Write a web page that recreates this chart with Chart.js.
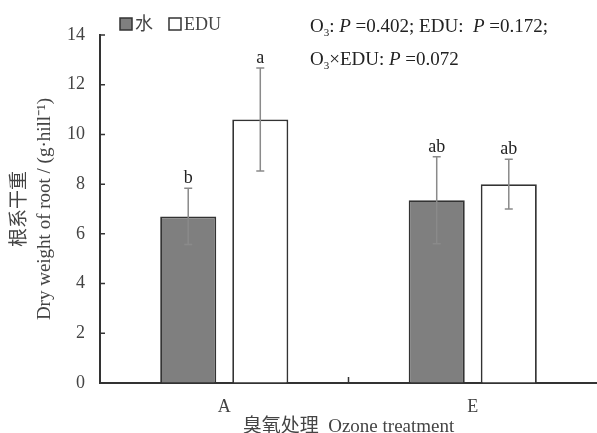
<!DOCTYPE html>
<html>
<head>
<meta charset="utf-8">
<script src="https://cdn.jsdelivr.net/npm/chart.js@4/dist/chart.umd.min.js"></script>
<style>
  html, body { margin: 0; padding: 0; background: #fff; }
  #wrap { width: 597px; height: 433px; }
</style>
</head>
<body>
<div id="wrap"><canvas id="myChart"></canvas></div>
<script>
// data
const categories = ["A", "E"];
const waterValues = [6.7, 7.35];
const waterErr = [1.13, 1.75];
const waterLetters = ["b", "ab"];
const eduValues = [10.6, 8.0];
const eduErr = [2.07, 1.0];
const eduLetters = ["a", "ab"];
const yTicks = [0, 2, 4, 6, 8, 10, 12, 14];

const serif = "'Liberation Serif', 'Times New Roman', 'Noto Sans CJK SC', serif";
const textColor = "#444";
const ctx = document.getElementById("myChart");

// error bars + letters, computed from the bars the library placed
const errorBars = {
  id: "errorBars",
  afterDatasetsDraw(chart) {
    const c = chart.ctx;
    const y = chart.scales.y;
    chart.data.datasets.forEach((ds, i) => {
      const meta = chart.getDatasetMeta(i);
      meta.data.forEach((bar, j) => {
        const v = ds.data[j];
        const e = ds.errors[j];
        const top = y.getPixelForValue(v + e);
        const bot = y.getPixelForValue(v - e);
        c.save();
        c.strokeStyle = "#8a8a8a";
        c.lineWidth = 1.5;
        c.beginPath();
        c.moveTo(bar.x, top);
        c.lineTo(bar.x, bot);
        c.moveTo(bar.x - 4, top);
        c.lineTo(bar.x + 4, top);
        c.moveTo(bar.x - 4, bot);
        c.lineTo(bar.x + 4, bot);
        c.stroke();
        c.fillStyle = "#222";
        c.font = "18px " + serif;
        c.textAlign = "center";
        c.textBaseline = "alphabetic";
        c.fillText(ds.letters[j], bar.x, top - 5);
        c.restore();
      });
    });
  }
};

// inward tick marks, legend and the P-value note
const extras = {
  id: "extras",
  afterDraw(chart) {
    const c = chart.ctx;
    const x = chart.scales.x;
    const y = chart.scales.y;
    const area = chart.chartArea;
    c.save();
    c.strokeStyle = "#333";
    c.lineWidth = 1.5;
    c.beginPath();
    yTicks.forEach((t) => {
      const py = y.getPixelForValue(t);
      c.moveTo(area.left, py);
      c.lineTo(area.left + 5, py);
    });
    for (let i = 0; i < categories.length - 1; i++) {
      const px = (x.getPixelForValue(i) + x.getPixelForValue(i + 1)) / 2;
      c.moveTo(px, area.bottom);
      c.lineTo(px, area.bottom - 6);
    }
    c.stroke();

    // legend
    let lx = 120;
    c.font = "18px " + serif;
    c.textBaseline = "alphabetic";
    chart.data.datasets.forEach((ds) => {
      c.fillStyle = ds.backgroundColor;
      c.fillRect(lx, 18, 12, 12);
      c.strokeStyle = "#333";
      c.lineWidth = 1.5;
      c.strokeRect(lx, 18, 12, 12);
      c.fillStyle = textColor;
      c.fillText(ds.label, lx + 15, 30);
      lx += 15 + c.measureText(ds.label).width + 16;
    });

    // P values
    const line1 = [["O", "n"], ["3", "sub"], [": ", "n"], ["P", "i"], [" =0.402; EDU:  ", "n"], ["P", "i"], [" =0.172;", "n"]];
    const line2 = [["O", "n"], ["3", "sub"], ["\u00d7EDU: ", "n"], ["P", "i"], [" =0.072", "n"]];
    const drawLine = (parts, sx, by) => {
      let px = sx;
      parts.forEach(([t, k]) => {
        c.font = (k === "i" ? "italic 19px " : k === "sub" ? "11px " : "19px ") + serif;
        c.fillStyle = "#222";
        c.fillText(t, px, k === "sub" ? by + 4 : by);
        px += c.measureText(t).width;
      });
    };
    drawLine(line1, 310, 32);
    drawLine(line2, 310, 65);
    c.restore();
  }
};

const myChart = new Chart(ctx, {
  type: "bar",
  data: {
    labels: categories,
    datasets: [
      {
        label: "水",
        data: waterValues,
        errors: waterErr,
        letters: waterLetters,
        backgroundColor: "#7f7f7f",
        borderColor: "#333",
        borderWidth: 1.8,
        categoryPercentage: 0.58,
        barPercentage: 0.778,
      },
      {
        label: "EDU",
        data: eduValues,
        errors: eduErr,
        letters: eduLetters,
        backgroundColor: "#ffffff",
        borderColor: "#333",
        borderWidth: 1.8,
        categoryPercentage: 0.58,
        barPercentage: 0.778,
      },
    ],
  },
  plugins: [errorBars, extras],
  options: {
    responsive: true,
    maintainAspectRatio: false,
    animation: false,
    layout: { padding: { top: 35, right: 0, left: 0, bottom: 0 } },
    plugins: {
      legend: { display: false },
      tooltip: { enabled: false },
    },
    scales: {
      x: {
        grid: { display: true, drawOnChartArea: false, drawTicks: false, offset: true },
        border: { color: "#333", width: 2 },
        ticks: { color: textColor, font: { family: serif, size: 18 }, padding: 13 },
        title: {
          display: true,
          text: "臭氧处理  Ozone treatment",
          color: textColor,
          font: { family: serif, size: 19, lineHeight: "12px" },
          padding: { top: 0, bottom: 0 },
        },
        afterFit(scale) { scale.height = 50; },
      },
      y: {
        min: 0,
        max: 14,
        grid: { display: true, drawOnChartArea: false, drawTicks: false },
        border: { color: "#333", width: 2 },
        ticks: { stepSize: 2, color: textColor, font: { family: serif, size: 18 }, padding: 15 },
        title: {
          display: true,
          text: ["根系干重", "Dry weight of root / (g\u00b7hill\u207b\u00b9)"],
          color: textColor,
          font: { family: serif, size: 19, lineHeight: "25px" },
          padding: { top: 8, bottom: 0 },
        },
        afterFit(scale) { scale.width = 100; },
      },
    },
  },
});
</script>
</body>
</html>
